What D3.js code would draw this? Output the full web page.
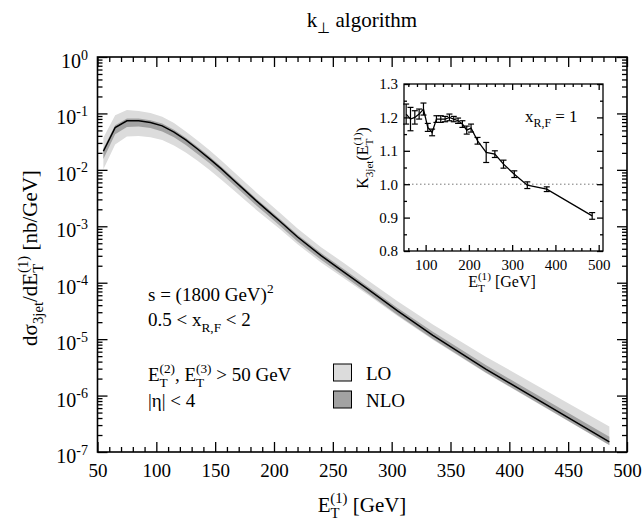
<!DOCTYPE html>
<html lang="en">
<head>
<meta charset="UTF-8">
<title>k-perp algorithm 3-jet cross section</title>
<script src="https://d3js.org/d3.v7.min.js"></script>
<style>
  body { margin: 0; background: #fff; }
  svg, svg text { font-family: "Liberation Serif", "Times New Roman", Times, serif !important; fill: #000; }
</style>
</head>
<body>
<div id="chart"></div>
<script>
// bin centres in E_T^(1) [GeV]
var etBins = [55, 65, 75, 85, 95, 105, 115, 125, 135, 145, 155, 165, 175, 185, 195, 205, 220, 240, 260, 280, 305, 335, 380, 485];

// NLO central value, d sigma / dE_T [nb/GeV]
var nloCentral = [0.0214, 0.0562, 0.0741, 0.0741, 0.0692, 0.0603, 0.0468, 0.0339, 0.0234, 0.0158, 0.0105, 0.00676,
  0.00437, 0.00282, 0.00186, 0.00123, 6.46e-4, 3.02e-4, 1.51e-4, 7.59e-5, 3.16e-5, 1.17e-5, 2.95e-6, 1.51e-7];

// scale bands (0.5 < x_R,F < 2)
var nloHigh = [0.0240, 0.0617, 0.0813, 0.0813, 0.0759, 0.0661, 0.0513, 0.0372, 0.0257, 0.0174, 0.0115, 0.00741,
  0.00479, 0.00309, 0.00204, 0.00135, 7.08e-4, 3.35e-4, 1.70e-4, 8.51e-5, 3.55e-5, 1.35e-5, 3.47e-6, 1.86e-7];
var nloLow = [0.0155, 0.0427, 0.0575, 0.0589, 0.0550, 0.0479, 0.0380, 0.0275, 0.0191, 0.0132, 0.00871, 0.00562,
  0.00363, 0.00234, 0.00155, 0.00102, 5.37e-4, 2.54e-4, 1.29e-4, 6.46e-5, 2.69e-5, 1.01e-5, 2.57e-6, 1.33e-7];
var loHigh = [0.0372, 0.0933, 0.115, 0.110, 0.102, 0.0871, 0.0676, 0.0479, 0.0331, 0.0224, 0.0148, 0.00955,
  0.00617, 0.00398, 0.00263, 0.00174, 9.12e-4, 4.27e-4, 2.19e-4, 1.10e-4, 4.68e-5, 1.82e-5, 4.90e-6, 2.82e-7];
var loLow = [0.0102, 0.0282, 0.0389, 0.0398, 0.0380, 0.0339, 0.0269, 0.0204, 0.0145, 0.0100, 0.00676, 0.00447,
  0.00295, 0.00195, 0.00132, 8.91e-4, 4.79e-4, 2.29e-4, 1.17e-4, 6.03e-5, 2.57e-5, 9.77e-6, 2.51e-6, 1.32e-7];

// inset: K factor at x_R,F = 1 and its statistical error
var kFactor = [1.21, 1.195, 1.20, 1.21, 1.225, 1.17, 1.155, 1.195, 1.195, 1.195, 1.20, 1.195,
  1.19, 1.18, 1.162, 1.168, 1.13, 1.095, 1.09, 1.06, 1.03, 0.997, 0.985, 0.905];
var kError = [0.03, 0.035, 0.02, 0.015, 0.018, 0.012, 0.01, 0.01, 0.01, 0.008, 0.01, 0.008,
  0.008, 0.01, 0.012, 0.012, 0.01, 0.03, 0.01, 0.012, 0.01, 0.01, 0.007, 0.01];

// tick labels
var xTicks = [50, 100, 150, 200, 250, 300, 350, 400, 450, 500];
var yExponents = [0, -1, -2, -3, -4, -5, -6, -7];
var insetXTicks = [100, 200, 300, 400, 500];
var insetYTicks = [0.8, 0.9, 1.0, 1.1, 1.2, 1.3];

var svg = d3.select("#chart").append("svg")
  .attr("width", 644)
  .attr("height", 523)
  .attr("font-family", "Liberation Serif, Times New Roman, serif");

// draw text with sub/superscripts; parts = [[text, "sub"|"sup"|null, dx]]
function rich(t, parts, size) {
  var shift = 0;
  parts.forEach(function(p) {
    var target = p[1] === "sub" ? size * 0.3 : p[1] === "sup" ? -size * 0.42 : 0;
    var s = t.append("tspan").text(p[0]).attr("dy", target - shift);
    if (p[1]) s.attr("font-size", size * 0.7);
    if (p[2]) s.attr("dx", p[2]);
    shift = target;
  });
  return t;
}

// E_T^(n) with the superscript stacked over the subscript
function etParts(size, sup) {
  return [["E", null], ["T", "sub"], [sup, "sup", -0.62 * size * 0.7]];
}

///////////////////////////// main plot /////////////////////////////
var mLeft = 97.5, mRight = 627, mTop = 57, mBottom = 452;

var x = d3.scaleLinear().domain([50, 500]).range([mLeft, mRight]);
var y = d3.scaleLog().domain([1e-7, 1]).range([mBottom, mTop]);

var area = function(lo, hi) {
  return d3.area()
    .x(function(d, i) { return x(etBins[i]); })
    .y0(function(d, i) { return y(lo[i]); })
    .y1(function(d, i) { return y(hi[i]); });
};

svg.append("path").datum(etBins)
  .attr("fill", "#dcdcdc")
  .attr("d", area(loLow, loHigh));
svg.append("path").datum(etBins)
  .attr("fill", "#a2a2a2")
  .attr("d", area(nloLow, nloHigh));
svg.append("path").datum(etBins)
  .attr("fill", "none")
  .attr("stroke", "#000")
  .attr("stroke-width", 1.5)
  .attr("d", d3.line()
    .x(function(d, i) { return x(etBins[i]); })
    .y(function(d, i) { return y(nloCentral[i]); }));

// ticks, all pointing inward
var xMinor = d3.range(50, 501, 10).filter(function(v) { return v % 50 !== 0; });
var yMajor = yExponents.map(function(e) { return Math.pow(10, e); });
var yMinor = [];
yExponents.slice(1).forEach(function(e) {
  for (var m = 2; m <= 9; m++) yMinor.push(m * Math.pow(10, e));
});

function styleAxis(g) {
  g.attr("font-family", null);
  g.select(".domain").remove();
  g.selectAll(".tick line").attr("stroke", "#000").attr("stroke-width", 1.3);
}

svg.append("g").attr("transform", "translate(0," + mBottom + ")")
  .call(d3.axisBottom(x).tickValues(xTicks).tickSize(-10).tickSizeOuter(0).tickPadding(12))
  .call(styleAxis)
  .selectAll("text").attr("font-size", 19);
svg.append("g").attr("transform", "translate(0," + mBottom + ")")
  .call(d3.axisBottom(x).tickValues(xMinor).tickSize(-5).tickFormat(""))
  .call(styleAxis);
svg.append("g").attr("transform", "translate(0," + mTop + ")")
  .call(d3.axisTop(x).tickValues(xTicks).tickSize(-10).tickFormat(""))
  .call(styleAxis);
svg.append("g").attr("transform", "translate(0," + mTop + ")")
  .call(d3.axisTop(x).tickValues(xMinor).tickSize(-5).tickFormat(""))
  .call(styleAxis);
svg.append("g").attr("transform", "translate(" + mLeft + ",0)")
  .call(d3.axisLeft(y).tickValues(yMajor).tickSize(-10).tickFormat(""))
  .call(styleAxis);
svg.append("g").attr("transform", "translate(" + mLeft + ",0)")
  .call(d3.axisLeft(y).tickValues(yMinor).tickSize(-5).tickFormat(""))
  .call(styleAxis);
svg.append("g").attr("transform", "translate(" + mRight + ",0)")
  .call(d3.axisRight(y).tickValues(yMajor).tickSize(-10).tickFormat(""))
  .call(styleAxis);
svg.append("g").attr("transform", "translate(" + mRight + ",0)")
  .call(d3.axisRight(y).tickValues(yMinor).tickSize(-5).tickFormat(""))
  .call(styleAxis);

svg.append("rect")
  .attr("x", mLeft).attr("y", mTop)
  .attr("width", mRight - mLeft).attr("height", mBottom - mTop)
  .attr("fill", "none").attr("stroke", "#000").attr("stroke-width", 1.6);

// y tick labels 10^n
yExponents.forEach(function(e) {
  var t = svg.append("text")
    .attr("x", 88).attr("y", y(Math.pow(10, e)) + 11)
    .attr("text-anchor", "end").attr("font-size", 20);
  rich(t, [["10", null], [e === 0 ? "0" : "-" + (-e), "sup"]], 20);
});

// titles
rich(svg.append("text").attr("x", 362).attr("y", 27).attr("text-anchor", "middle").attr("font-size", 21),
  [["k", null], ["\u22a5", "sub"], [" algorithm", null]], 21);

rich(svg.append("text").attr("x", 362).attr("y", 512).attr("text-anchor", "middle").attr("font-size", 21),
  etParts(21, "(1)").concat([[" [GeV]", null]]), 21);

rich(svg.append("text")
    .attr("transform", "translate(37,258) rotate(-90)")
    .attr("text-anchor", "middle").attr("font-size", 21),
  [["d\u03c3", null], ["3jet", "sub"], ["/dE", null], ["T", "sub"], ["(1)", "sup", -0.62 * 21 * 0.7], [" [nb/GeV]", null]], 21);

// annotations
rich(svg.append("text").attr("x", 148).attr("y", 301).attr("font-size", 19),
  [["s = (1800 GeV)", null], ["2", "sup"]], 19);
rich(svg.append("text").attr("x", 148).attr("y", 326).attr("font-size", 19),
  [["0.5 < x", null], ["R,F", "sub"], [" < 2", null]], 19);
rich(svg.append("text").attr("x", 148).attr("y", 381).attr("font-size", 19),
  etParts(19, "(2)").concat([[", E", null], ["T", "sub"], ["(3)", "sup", -0.62 * 19 * 0.7], [" > 50 GeV", null]]), 19);
rich(svg.append("text").attr("x", 148).attr("y", 407).attr("font-size", 19),
  [["|\u03b7| < 4", null]], 19);

// legend
var legendItems = [["LO", "#dcdcdc", 364], ["NLO", "#a2a2a2", 391]];
legendItems.forEach(function(d) {
  svg.append("rect").attr("x", 333.5).attr("y", d[2]).attr("width", 18).attr("height", 17)
    .attr("fill", d[1]).attr("stroke", "#000").attr("stroke-width", 1);
  svg.append("text").attr("x", 366).attr("y", d[2] + 16).attr("font-size", 19).text(d[0]);
});

///////////////////////////// inset /////////////////////////////
var iLeft = 404, iRight = 603, iTop = 84, iBottom = 251;
var ix = d3.scaleLinear().domain([50, 510]).range([iLeft, iRight]);
var iy = d3.scaleLinear().domain([0.8, 1.3]).range([iBottom, iTop]);

svg.append("line")
  .attr("x1", iLeft).attr("x2", iRight)
  .attr("y1", iy(1.0)).attr("y2", iy(1.0))
  .attr("stroke", "#777").attr("stroke-width", 1).attr("stroke-dasharray", "1.5,2.5");

svg.append("path").datum(etBins)
  .attr("fill", "none").attr("stroke", "#000").attr("stroke-width", 1.3)
  .attr("d", d3.line()
    .x(function(d, i) { return ix(etBins[i]); })
    .y(function(d, i) { return iy(kFactor[i]); }));

var bars = svg.append("g").attr("stroke", "#000").attr("stroke-width", 1.2);
etBins.forEach(function(e, i) {
  var cx = ix(e), y0 = iy(kFactor[i] - kError[i]), y1 = iy(kFactor[i] + kError[i]);
  bars.append("line").attr("x1", cx).attr("x2", cx).attr("y1", y0).attr("y2", y1);
  bars.append("line").attr("x1", cx - 3).attr("x2", cx + 3).attr("y1", y0).attr("y2", y0);
  bars.append("line").attr("x1", cx - 3).attr("x2", cx + 3).attr("y1", y1).attr("y2", y1);
});

var ixMinor = d3.range(60, 510, 20).filter(function(v) { return v % 100 !== 0; });
var iyMinor = [0.85, 0.95, 1.05, 1.15, 1.25];

svg.append("g").attr("transform", "translate(0," + iBottom + ")")
  .call(d3.axisBottom(ix).tickValues(insetXTicks).tickSize(-6).tickPadding(8))
  .call(styleAxis)
  .selectAll("text").attr("font-size", 15);
svg.append("g").attr("transform", "translate(0," + iBottom + ")")
  .call(d3.axisBottom(ix).tickValues(ixMinor).tickSize(-3).tickFormat(""))
  .call(styleAxis);
svg.append("g").attr("transform", "translate(0," + iTop + ")")
  .call(d3.axisTop(ix).tickValues(insetXTicks).tickSize(-6).tickFormat(""))
  .call(styleAxis);
svg.append("g").attr("transform", "translate(0," + iTop + ")")
  .call(d3.axisTop(ix).tickValues(ixMinor).tickSize(-3).tickFormat(""))
  .call(styleAxis);
svg.append("g").attr("transform", "translate(" + iLeft + ",0)")
  .call(d3.axisLeft(iy).tickValues(insetYTicks).tickSize(-6).tickPadding(6).tickFormat(d3.format(".1f")))
  .call(styleAxis)
  .selectAll("text").attr("font-size", 15);
svg.append("g").attr("transform", "translate(" + iLeft + ",0)")
  .call(d3.axisLeft(iy).tickValues(iyMinor).tickSize(-3).tickFormat(""))
  .call(styleAxis);
svg.append("g").attr("transform", "translate(" + iRight + ",0)")
  .call(d3.axisRight(iy).tickValues(insetYTicks).tickSize(-6).tickFormat(""))
  .call(styleAxis);
svg.append("g").attr("transform", "translate(" + iRight + ",0)")
  .call(d3.axisRight(iy).tickValues(iyMinor).tickSize(-3).tickFormat(""))
  .call(styleAxis);

svg.append("rect")
  .attr("x", iLeft).attr("y", iTop)
  .attr("width", iRight - iLeft).attr("height", iBottom - iTop)
  .attr("fill", "none").attr("stroke", "#000").attr("stroke-width", 1.3);

rich(svg.append("text").attr("x", 502).attr("y", 287).attr("text-anchor", "middle").attr("font-size", 16),
  etParts(16, "(1)").concat([[" [GeV]", null]]), 16);

rich(svg.append("text")
    .attr("transform", "translate(368,158) rotate(-90)")
    .attr("text-anchor", "middle").attr("font-size", 16),
  [["K", null], ["3jet", "sub"], ["(E", null], ["T", "sub"], ["(1)", "sup", -0.62 * 16 * 0.7], [")", null]], 16);

rich(svg.append("text").attr("x", 525).attr("y", 122).attr("font-size", 17),
  [["x", null], ["R,F", "sub"], [" = 1", null]], 17);
</script>
</body>
</html>
